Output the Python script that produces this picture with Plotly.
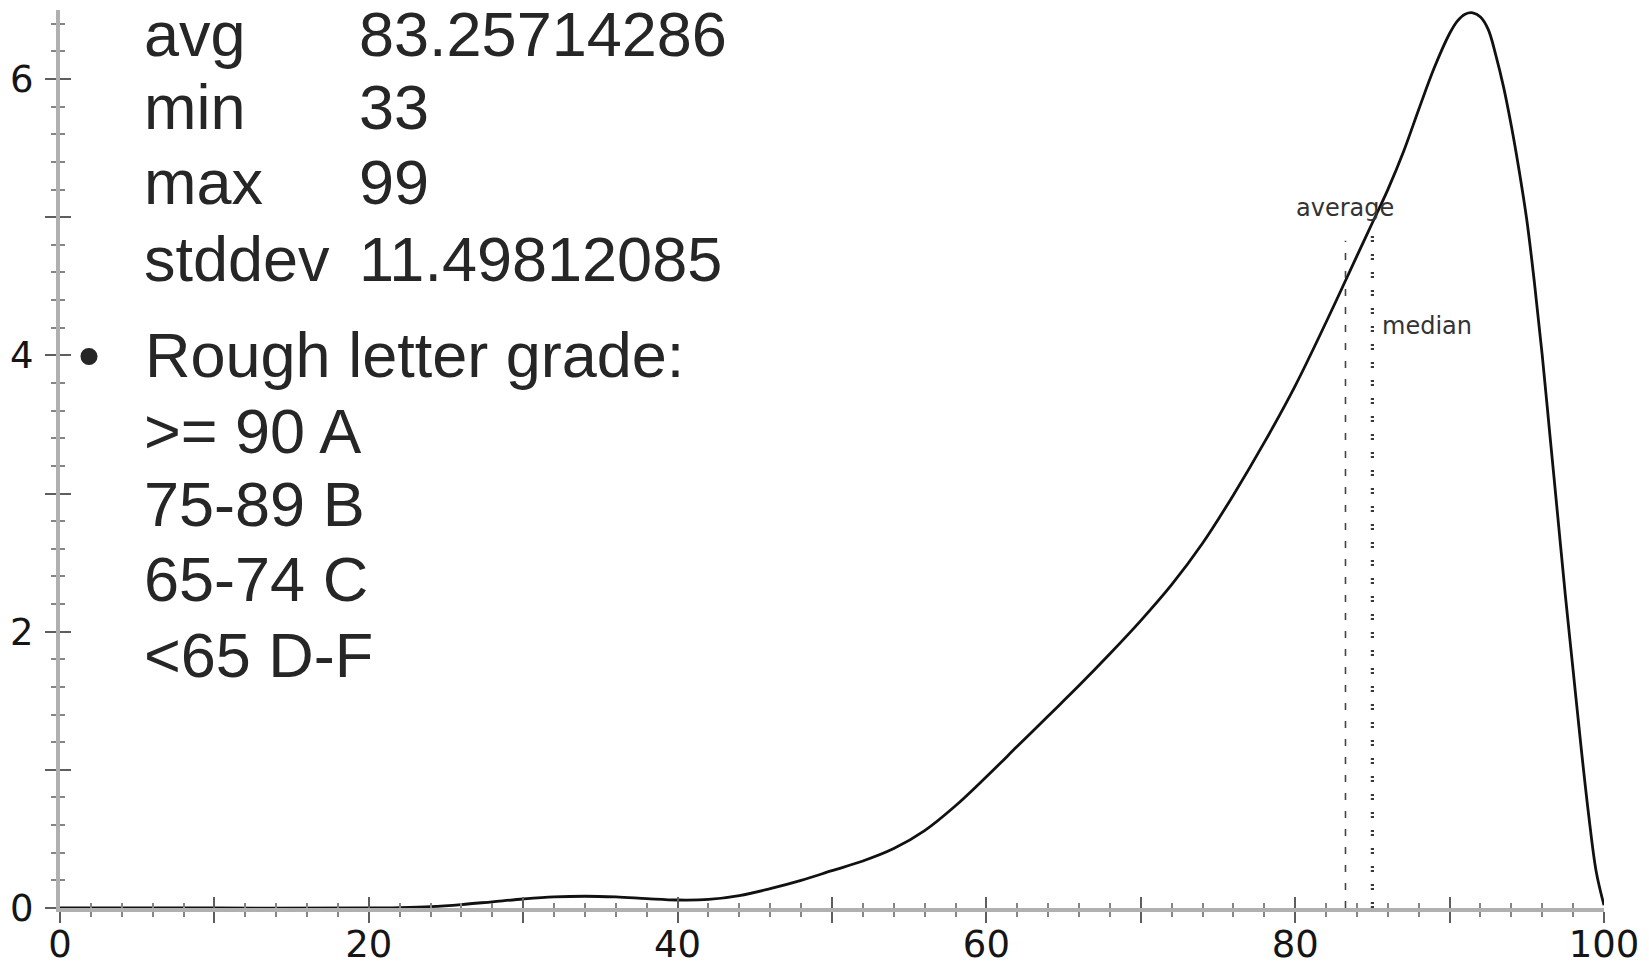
import plotly.graph_objects as go

# ---------------- data ----------------
score_x = [0, 10, 20, 22, 24, 26, 28, 30, 32, 34, 36, 38, 40, 42, 44, 46, 48, 50,
           52, 54, 56, 58, 60, 62, 64, 66, 68, 70, 72, 74, 76, 78, 80, 82, 84, 85,
           86, 87, 88, 89, 90, 90.5, 91, 91.5, 92, 92.5, 93, 93.5, 94, 94.5, 95,
           95.5, 96, 96.5, 97, 97.5, 98, 98.5, 99, 99.5, 100]
density_y = [0, 0, 0, 0.003, 0.01, 0.025, 0.045, 0.065, 0.08, 0.085, 0.08, 0.068, 0.058,
             0.062, 0.09, 0.14, 0.20, 0.27, 0.34, 0.43, 0.56, 0.74, 0.95, 1.17, 1.39,
             1.61, 1.84, 2.08, 2.34, 2.64, 2.99, 3.37, 3.78, 4.24, 4.72, 4.96, 5.20,
             5.47, 5.78, 6.08, 6.33, 6.42, 6.47, 6.48, 6.45, 6.36, 6.17, 5.94, 5.66,
             5.34, 4.98, 4.52, 4.00, 3.42, 2.84, 2.26, 1.72, 1.18, 0.68, 0.26, 0.02]

AVG = 83.25714286
MEDIAN = 85.0
avg_line_top = 4.83
median_line_top = 4.95

stat_names = ["avg", "min", "max", "stddev"]
stat_values = ["83.25714286", "33", "99", "11.49812085"]
bullet_title = "Rough letter grade:"
grade_lines = [">= 90 A", "75-89 B", "65-74 C", "<65 D-F"]

x_tick_vals = [0, 10, 20, 30, 40, 50, 60, 70, 80, 90, 100]
x_tick_text = ["0", "", "20", "", "40", "", "60", "", "80", "", "100"]
y_tick_vals = [0, 1, 2, 3, 4, 5, 6]
y_tick_text = ["0", "", "2", "", "4", "", "6"]

# ---------------- layout geometry ----------------
W, H = 1649, 976
L, R, T, B = 55, 36, 10, 49
XR = [0, 100]
YR = [0, 6.5]


def px2x(px):
    return XR[0] + (px - L) / (W - L - R) * (XR[1] - XR[0])


def py2y(py):
    return YR[1] - (py - T) / (H - T - B) * (YR[1] - YR[0])


fig = go.Figure()

fig.add_trace(go.Scatter(
    x=score_x, y=density_y, mode="lines",
    line=dict(color="#111111", width=2.8, shape="spline", smoothing=1.0),
    showlegend=False, hoverinfo="skip"))

fig.add_trace(go.Scatter(
    x=[AVG, AVG], y=[0, avg_line_top], mode="lines",
    line=dict(color="#444444", width=1.6, dash="7px,11px"),
    showlegend=False, hoverinfo="skip"))

fig.add_trace(go.Scatter(
    x=[MEDIAN, MEDIAN], y=[0, median_line_top], mode="lines",
    line=dict(color="#3a3a3a", width=3.2, dash="2px,2px,2px,12px"),
    showlegend=False, hoverinfo="skip"))

# dummy trace for the overlay axes (inner half of crossing ticks)
fig.add_trace(go.Scatter(x=[None], y=[None], xaxis="x2", yaxis="y2",
                         showlegend=False, hoverinfo="skip"))

annos = []
big_font = dict(family="Liberation Sans, Arial, Helvetica, sans-serif", size=63, color="#262626")
small_font = dict(family="DejaVu Sans, Verdana, sans-serif", size=24, color="#333333")

stat_mid = [35, 109, 186, 264]
title_mid = 362
grade_mid = [440, 514, 591, 669]
TEXT_X = 138
NUM_X = 355


def add_text(txt, px, mid, font, xanchor="left"):
    annos.append(dict(text=txt, x=px2x(px), y=py2y(mid), xref="x", yref="y",
                      xanchor=xanchor, yanchor="middle", showarrow=False, font=font))


for name, val, m in zip(stat_names, stat_values, stat_mid):
    add_text(name, TEXT_X, m, big_font)
    add_text(val, NUM_X, m, big_font)

add_text("•", 84, title_mid, big_font, xanchor="center")
add_text(bullet_title, TEXT_X + 1, title_mid, big_font)
for g, m in zip(grade_lines, grade_mid):
    add_text(g, TEXT_X, m, big_font)

annos.append(dict(text="average", x=AVG, y=py2y(212), xref="x", yref="y",
                  xanchor="center", yanchor="middle", showarrow=False, font=small_font))
annos.append(dict(text="median", x=px2x(1387), y=py2y(333), xref="x", yref="y",
                  xanchor="left", yanchor="middle", showarrow=False, font=small_font))

tickfont = dict(family="DejaVu Sans, Verdana, sans-serif", size=37, color="#151515")
LINE_C = "#b0b0b0"
MAJ_C = "#5e5e5e"
MIN_C = "#858585"

fig.update_layout(
    width=W, height=H,
    margin=dict(l=L, r=R, t=T, b=B, pad=0),
    paper_bgcolor="white", plot_bgcolor="white",
    showlegend=False,
    annotations=annos,
    xaxis=dict(range=XR, showgrid=False, zeroline=False, showline=True,
               linecolor=LINE_C, linewidth=4,
               ticks="outside", ticklen=11, tickwidth=2, tickcolor=MAJ_C,
               tickmode="array", tickvals=x_tick_vals, ticktext=x_tick_text,
               tickfont=tickfont, ticklabelstandoff=-10,
               minor=dict(ticks="outside", ticklen=5, tickwidth=2, tickcolor=MIN_C,
                          dtick=2, tick0=0, showgrid=False)),
    yaxis=dict(range=YR, showgrid=False, zeroline=False, showline=True,
               linecolor=LINE_C, linewidth=4,
               ticks="outside", ticklen=11, tickwidth=2, tickcolor=MAJ_C,
               tickmode="array", tickvals=y_tick_vals, ticktext=y_tick_text,
               tickfont=tickfont, ticklabelstandoff=4,
               minor=dict(ticks="outside", ticklen=5, tickwidth=2, tickcolor=MIN_C,
                          dtick=0.2, tick0=0, showgrid=False)),
    xaxis2=dict(range=XR, overlaying="x", anchor="y", side="bottom",
                showgrid=False, zeroline=False, showline=False, showticklabels=False,
                ticks="inside", ticklen=11, tickwidth=2, tickcolor=MAJ_C,
                tickmode="array", tickvals=x_tick_vals,
                minor=dict(ticks="inside", ticklen=5, tickwidth=2, tickcolor=MIN_C,
                           dtick=2, tick0=0, showgrid=False)),
    yaxis2=dict(range=YR, overlaying="y", anchor="x", side="left",
                showgrid=False, zeroline=False, showline=False, showticklabels=False,
                ticks="inside", ticklen=11, tickwidth=2, tickcolor=MAJ_C,
                tickmode="array", tickvals=y_tick_vals,
                minor=dict(ticks="inside", ticklen=5, tickwidth=2, tickcolor=MIN_C,
                           dtick=0.2, tick0=0, showgrid=False)),
)

fig.write_html("out.html", config={"displayModeBar": False},
               post_script="document.body.style.margin='0';document.body.style.overflow='hidden';")
